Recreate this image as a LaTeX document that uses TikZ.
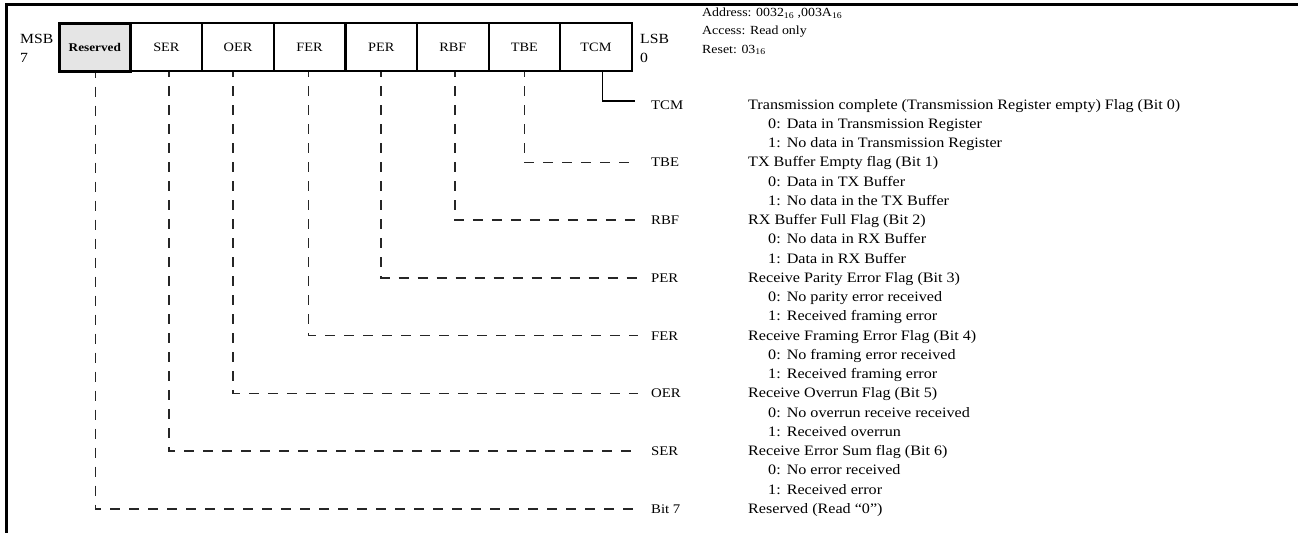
\documentclass[tikz,border=0pt]{standalone}
\usepackage{fontspec}
\setmainfont{Liberation Serif}[FakeStretch=1.12]
\tikzset{
  cell/.style={draw=black, line width=2.2pt, minimum width=71.6pt, minimum height=48pt, inner sep=0pt, font=\fontsize{12.8}{15}\selectfont},
  rescell/.style={cell, fill=gray!20, line width=3pt, font=\fontsize{11.8}{14}\selectfont\bfseries},
  sidelbl/.style={anchor=base west, inner sep=0pt, font=\fontsize{14}{17}\selectfont},
  addr/.style={anchor=west, inner sep=0pt, font=\fontsize{12.4}{14}\selectfont},
  lbl/.style={anchor=west, inner sep=0pt, text height=9pt, text depth=3pt, font=\fontsize{13.2}{15}\selectfont},
  desc/.style={anchor=west, inner sep=0pt, text height=9pt, text depth=3pt, font=\fontsize{14.4}{16}\selectfont},
  dl/.style={draw=black!85, line width=1.5pt, dash pattern=on 10pt off 9pt, dash phase=5pt},
  sl/.style={draw=black, line width=1.5pt},
  frame/.style={draw=black, line width=3pt}
}
\begin{document}
\begin{tikzpicture}[x=1pt,y=-1pt]
\useasboundingbox (0,0) rectangle (1298,533);
\coordinate (fa) at (5,4.5);
\coordinate (fb) at (1298,4.5);
\coordinate (fc) at (6.5,533);
\draw[frame] (fb) -- (fa -| fc) -- (fc);

% register cells
\node[rescell] (res) at (94.8,47) {Reserved};
\node[cell] (ser) at (166.4,47) {SER};
\node[cell] (oer) at (238.0,47) {OER};
\node[cell] (fer) at (309.6,47) {FER};
\node[cell] (per) at (381.2,47) {PER};
\node[cell] (rbf) at (452.8,47) {RBF};
\node[cell] (tbe) at (524.4,47) {TBE};
\node[cell] (tcm) at (596.0,47) {TCM};

\node[sidelbl] (msb) at (20,43) {MSB};
\node[sidelbl] (msbn) at (20,62) {7};
\node[sidelbl] (lsb) at (640,43) {LSB};
\node[sidelbl] (lsbn) at (640,62) {0};

\node[addr] (a1) at (702,13) {Address: 0032\textsubscript{16} ,003A\textsubscript{16}};
\node[addr] (a2) at (702,31.5) {Access: Read only};
\node[addr] (a3) at (702,50) {Reset: 03\textsubscript{16}};

% bit labels
\node[lbl] (ltcm) at (651,106) {TCM};
\node[lbl] (ltbe) at (651,163.75) {TBE};
\node[lbl] (lrbf) at (651,221.5) {RBF};
\node[lbl] (lper) at (651,279.25) {PER};
\node[lbl] (lfer) at (651,337) {FER};
\node[lbl] (loer) at (651,394.75) {OER};
\node[lbl] (lser) at (651,452.5) {SER};
\node[lbl] (lres) at (651,510.25) {Bit 7};

% connectors
\draw[sl] ([xshift=6.5pt]tcm.south) |- ([xshift=-16pt,yshift=5pt]ltcm.west);
\draw[dl] (tbe.south) |- ([xshift=-13pt,yshift=1.5pt]ltbe.west);
\draw[dl] ([xshift=2pt]rbf.south) |- ([xshift=-13pt,yshift=1.5pt]lrbf.west);
\draw[dl] (per.south) |- ([xshift=-13pt,yshift=1.5pt]lper.west);
\draw[dl] ([xshift=-1pt]fer.south) |- ([xshift=-13pt,yshift=1.5pt]lfer.west);
\draw[dl] ([xshift=-5pt]oer.south) |- ([xshift=-13pt,yshift=1.5pt]loer.west);
\draw[dl] ([xshift=2.5pt]ser.south) |- ([xshift=-13pt,yshift=1.5pt]lser.west);
\draw[dl] ([xshift=0.5pt]res.south) |- ([xshift=-13pt,yshift=1.5pt]lres.west);

% descriptions
\node[desc] (d0) at (748,106) {Transmission complete (Transmission Register empty) Flag (Bit 0)};
\node[desc] (d0a) at (768,125.25) {0:\hspace{6pt}Data in Transmission Register};
\node[desc] (d0b) at (768,144.5) {1:\hspace{6pt}No data in Transmission Register};
\node[desc] (d1) at (748,163.75) {TX Buffer Empty flag (Bit 1)};
\node[desc] (d1a) at (768,183) {0:\hspace{6pt}Data in TX Buffer};
\node[desc] (d1b) at (768,202.25) {1:\hspace{6pt}No data in the TX Buffer};
\node[desc] (d2) at (748,221.5) {RX Buffer Full Flag (Bit 2)};
\node[desc] (d2a) at (768,240.75) {0:\hspace{6pt}No data in RX Buffer};
\node[desc] (d2b) at (768,260) {1:\hspace{6pt}Data in RX Buffer};
\node[desc] (d3) at (748,279.25) {Receive Parity Error Flag (Bit 3)};
\node[desc] (d3a) at (768,298.5) {0:\hspace{6pt}No parity error received};
\node[desc] (d3b) at (768,317.75) {1:\hspace{6pt}Received framing error};
\node[desc] (d4) at (748,337) {Receive Framing Error Flag (Bit 4)};
\node[desc] (d4a) at (768,356.25) {0:\hspace{6pt}No framing error received};
\node[desc] (d4b) at (768,375.5) {1:\hspace{6pt}Received framing error};
\node[desc] (d5) at (748,394.75) {Receive Overrun Flag (Bit 5)};
\node[desc] (d5a) at (768,414) {0:\hspace{6pt}No overrun receive received};
\node[desc] (d5b) at (768,433.25) {1:\hspace{6pt}Received overrun};
\node[desc] (d6) at (748,452.5) {Receive Error Sum flag (Bit 6)};
\node[desc] (d6a) at (768,471.75) {0:\hspace{6pt}No error received};
\node[desc] (d6b) at (768,491) {1:\hspace{6pt}Received error};
\node[desc] (d7) at (748,510.25) {Reserved (Read “0”)};
\end{tikzpicture}
\end{document}
